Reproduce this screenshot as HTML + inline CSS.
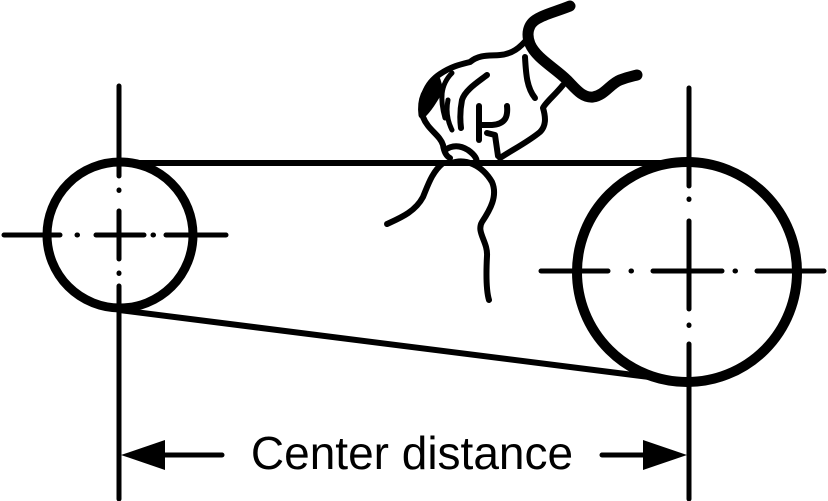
<!DOCTYPE html>
<html><head><meta charset="utf-8"><style>
html,body{margin:0;padding:0;background:#fff;}
svg{display:block;}
</style></head><body>
<svg width="828" height="501" viewBox="0 0 828 501" xmlns="http://www.w3.org/2000/svg">
<g stroke="#000" fill="none" stroke-linecap="round">
  <!-- belt -->
  <line x1="119" y1="163" x2="689" y2="163" stroke-width="6"/>
  <line x1="119" y1="310" x2="689" y2="382" stroke-width="6"/>
  <!-- pulleys -->
  <circle cx="120" cy="235" r="73" stroke-width="9"/>
  <circle cx="687" cy="272" r="110" stroke-width="10"/>
  <!-- left center lines -->
  <g stroke-width="5">
    <line x1="4" y1="235" x2="60" y2="235"/>
    <line x1="77" y1="235" x2="77.5" y2="235"/>
    <line x1="96" y1="235" x2="144" y2="235"/>
    <line x1="153" y1="235" x2="153.5" y2="235"/>
    <line x1="166" y1="235" x2="226" y2="235"/>
    <line x1="119" y1="86" x2="119" y2="176"/>
    <line x1="119" y1="190" x2="119" y2="190.5"/>
    <line x1="119" y1="211" x2="119" y2="259"/>
    <line x1="119" y1="273" x2="119" y2="273.5"/>
    <line x1="119" y1="286" x2="119" y2="499"/>
  </g>
  <!-- right center lines -->
  <g stroke-width="5">
    <line x1="541" y1="271" x2="608" y2="271"/>
    <line x1="631" y1="271" x2="631.5" y2="271"/>
    <line x1="653" y1="271" x2="722" y2="271"/>
    <line x1="735" y1="271" x2="735.5" y2="271"/>
    <line x1="757" y1="271" x2="824" y2="271"/>
    <line x1="689" y1="88" x2="689" y2="186"/>
    <line x1="689" y1="199" x2="689" y2="199.5"/>
    <line x1="689" y1="221" x2="689" y2="309"/>
    <line x1="689" y1="325" x2="689" y2="325.5"/>
    <line x1="689" y1="344" x2="689" y2="499"/>
  </g>
  <!-- dimension arrows -->
  <line x1="150" y1="455" x2="222" y2="455" stroke-width="5"/>
  <line x1="602" y1="455" x2="660" y2="455" stroke-width="5"/>
  <!-- hand -->
  <g stroke-width="6" stroke-linejoin="round">
    <path d="M570,6 C555,12 545,14 537,19 C528,24 526,34 530,44 C536,58 555,68 567,80 C575,88 582,98 593,97 C605,95 610,84 620,80 C628,77 633,76 637,75" stroke-width="11"/>
    <path d="M528,38 C520,48 512,54 500,55 C490,56 480,54 470,62 C462,64 452,66 440,74 C425,84 420,100 423,117 C428,130 440,135 443,145 C444,152 446,156 450,158"/>
    <path d="M525,57 C526,75 527,88 535,98"/>
    <path d="M487,75 C478,82 465,90 462,100 C460,110 460,120 461,128"/>
    <path d="M563,85 C555,95 545,103 543,108 C546,118 546,126 540,132 C528,142 512,150 500,158"/>
    <path d="M479,106 L479,140"/>
    <path d="M507,106 C508,116 506,124 492,125 L481,125"/>
    <path d="M487,133 L495,135 L498,156"/>
    <path d="M445,150 C452,145 460,145 468,150 C475,155 478,160 476,163"/>
    <path d="M443,163 C432,172 428,185 423,197 C415,212 400,218 387,224"/>
    <path d="M452,163 C465,158 482,165 492,182 C498,196 490,210 482,222 C476,232 488,242 487,256 C486,275 486,290 489,300"/>
    <path d="M437,80 C425,88 420,100 422,115 C428,110 434,100 440,90 Z" fill="#000" stroke-width="7"/>
    <path d="M452,73 C440,85 440,100 445,118" stroke-width="5"/>
    <path d="M448,100 C446,110 447,120 452,130" stroke-width="5"/>
  </g>
</g>
<g fill="#000">
  <polygon points="121,455 165,440 165,470"/>
  <polygon points="687,455 643,440 643,470"/>
</g>
<text x="412" y="469" text-anchor="middle" font-family="'Liberation Sans', Arial, sans-serif" font-size="46" fill="#000">Center distance</text>
</svg>
</body></html>
